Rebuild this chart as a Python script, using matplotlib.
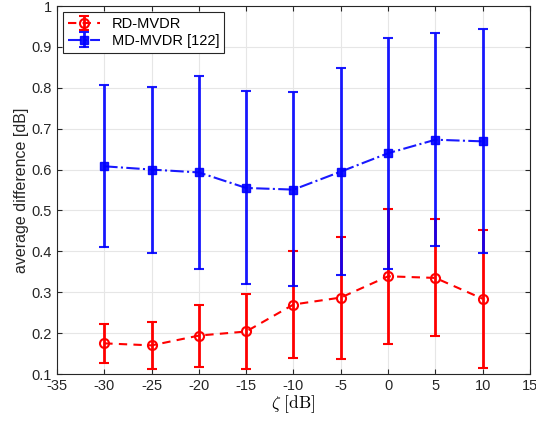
import numpy as np
import matplotlib
matplotlib.use('Agg')
import matplotlib.pyplot as plt

plt.rcParams.update({'font.family': ['Liberation Sans', 'DejaVu Sans'], 'font.size': 10,
                     'mathtext.fontset': 'cm'})

zeta = [-30, -25, -20, -15, -10, -5, 0, 5, 10]

rdMean = [0.175, 0.170, 0.194, 0.204, 0.270, 0.287, 0.339, 0.335, 0.284]
rdUpper = [0.222, 0.228, 0.270, 0.295, 0.401, 0.436, 0.503, 0.480, 0.453]
rdLower = [0.128, 0.112, 0.118, 0.112, 0.140, 0.137, 0.174, 0.192, 0.115]

mdMean = [0.608, 0.600, 0.593, 0.555, 0.551, 0.595, 0.640, 0.673, 0.669]
mdUpper = [0.806, 0.803, 0.829, 0.792, 0.789, 0.848, 0.922, 0.933, 0.944]
mdLower = [0.411, 0.396, 0.358, 0.319, 0.315, 0.341, 0.357, 0.414, 0.395]

rdMean, rdUpper, rdLower = map(np.array, (rdMean, rdUpper, rdLower))
mdMean, mdUpper, mdLower = map(np.array, (mdMean, mdUpper, mdLower))

fig = plt.figure(figsize=(5.36, 4.21), dpi=100)
ax = fig.add_axes([0.1063, 0.1116, 0.8825, 0.8741])

ax.errorbar(zeta, rdMean, yerr=[rdMean - rdLower, rdUpper - rdMean], color='red',
            linestyle=(0, (4, 3)), linewidth=1.5, elinewidth=2, capsize=3.5, capthick=1.5,
            marker='o', markersize=6.5, markerfacecolor='none', markeredgewidth=1.5,
            label='RD-MVDR', zorder=3)
ax.errorbar(zeta, mdMean, yerr=[mdMean - mdLower, mdUpper - mdMean], color='blue',
            linestyle='-.', linewidth=1.5, elinewidth=2, capsize=3.5, capthick=1.5,
            marker='s', markersize=5.5, label='MD-MVDR [122]', zorder=4, alpha=0.9)

ax.set_xlim(-35, 15)
ax.set_ylim(0.1, 1.0)
ax.set_xticks(np.arange(-35, 16, 5))
ax.set_yticks(np.arange(0.1, 1.01, 0.1))
ax.set_xticklabels(['-35', '-30', '-25', '-20', '-15', '-10', '-5', '0', '5', '10', '15'])
ax.set_yticklabels(['0.1', '0.2', '0.3', '0.4', '0.5', '0.6', '0.7', '0.8', '0.9', '1'])
ax.grid(True, color='#e6e6e6', linewidth=0.8)
ax.set_axisbelow(True)
ax.tick_params(direction='in', top=True, right=True, colors='#262626', labelcolor='#262626',
               labelsize=10.5)
for s in ax.spines.values():
    s.set_color('#262626')

ax.set_xlabel(r'$\zeta\ \mathrm{[dB]}$', fontsize=12.5, labelpad=0)
ax.set_ylabel('average difference [dB]', color='#262626', fontsize=11.5, labelpad=2)

leg = ax.legend(loc='upper left', fancybox=False, framealpha=1, edgecolor='#262626',
                borderaxespad=0.4, handlelength=2.2, borderpad=0.35, labelspacing=0.2,
                fontsize=10.5)
leg.get_frame().set_linewidth(0.8)

plt.savefig('out.png', dpi=100)
